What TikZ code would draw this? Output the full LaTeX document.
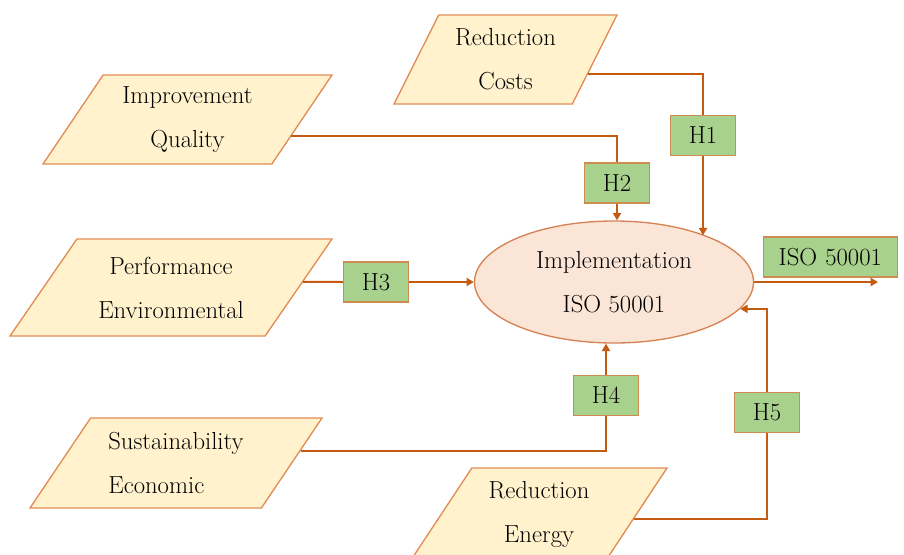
\documentclass[tikz,border=0pt]{standalone}
\usetikzlibrary{shapes.geometric,arrows.meta,calc}

\definecolor{linkbrown}{RGB}{197,90,17}
\definecolor{cardfill}{RGB}{255,242,204}
\definecolor{cardedge}{RGB}{226,140,84}
\definecolor{ovalfill}{RGB}{251,229,214}
\definecolor{ovaledge}{RGB}{214,130,84}
\definecolor{hfill}{RGB}{169,209,142}
\definecolor{hedge}{RGB}{205,140,80}

\newcommand{\pxu}{0.75pt}

\tikzset{
    card/.style 2 args={trapezium, trapezium stretches body, trapezium left angle=#1, trapezium right angle=#2, draw=cardedge, fill=cardfill, line width=1pt, inner sep=0pt, font=\fontsize{18.5}{33}\selectfont, align=center},
    hbox/.style={rectangle, draw=hedge, fill=hfill, line width=1pt, minimum width=65*\pxu, minimum height=40*\pxu, inner sep=0pt, font=\fontsize{18.5}{20}\selectfont},
    link/.style={draw=linkbrown, line width=1.5pt},
    linkarrow/.style={link, -{Triangle[length=5.5pt, width=6pt]}}
}

\begin{document}
\begin{tikzpicture}[x=\pxu, y=-\pxu]
                \useasboundingbox (0,0) rectangle (904,554);

                \node[card={54}{126}, minimum width=223*\pxu, minimum height=89*\pxu] (costs) at (505.5,59.5) {Reduction\\Costs};

                \node[card={47.6}{132.4}, minimum width=289*\pxu, minimum height=89*\pxu] (quality) at (187.5,119.5) {Improvement\\Quality};

                \node[card={42.6}{137.4}, minimum width=322*\pxu, minimum height=97*\pxu] (perf) at (171,287.5) {Performance\\Environmental};

                \node[card={45.4}{134.6}, minimum width=292*\pxu, minimum height=90*\pxu, align=left] (econ) at (176,463) {Sustainability\\Economic};

                \node[card={47.4}{132.6}, minimum width=256*\pxu, minimum height=92*\pxu] (energy) at (539,514) {Reduction\\Energy};

                \node[ellipse, draw=ovaledge, fill=ovalfill, line width=1pt, minimum width=279*\pxu, minimum height=122*\pxu, inner sep=0pt, font=\fontsize{18.5}{33}\selectfont, align=center] (impl) at (614,282) {Implementation\\ISO 50001};

                \node[hbox] (h1) at (703,135.5) {H1};

                \node[hbox] (h2) at (617,183) {H2};

                \node[hbox] (h3) at (376,282) {H3};

                \node[hbox] (h4) at (606,395.5) {H4};

                \node[hbox] (h5) at (767,412.5) {H5};

                \node[hbox, anchor=west, minimum width=134*\pxu, text width=104*\pxu, inner xsep=15*\pxu, align=left] (isobox) at (763,257) {ISO 50001};

                \coordinate (costs-out) at ($(costs.bottom right corner)!.335!(costs.top right corner)$);

                \coordinate (quality-out) at ($(quality.bottom right corner)!.315!(quality.top right corner)$);

                \coordinate (perf-out) at ($(perf.bottom right corner)!.557!(perf.top right corner)$);

                \coordinate (econ-out) at ($(econ.bottom right corner)!.633!(econ.top right corner)$);

                \coordinate (energy-out) at ($(energy.bottom right corner)!.446!(energy.top right corner)$);

                \coordinate (iso-end) at (878,282);

                \draw[link] (costs-out) -| (h1.north);

                \draw[linkarrow] (h1.south) -- (h1.south |- impl.27.4);

                \draw[link] (quality-out) -| (h2.north);

                \draw[linkarrow] (h2.south) -- (h2.south |- impl.north);

                \draw[link] (perf-out) -- (h3.west);

                \draw[linkarrow] (h3.east) -- (impl.west);

                \draw[link] (econ-out) -| (h4.south);

                \draw[linkarrow] (h4.north) -- (h4.north |- impl.south);

                \draw[link] (energy-out) -| (h5.south);

                \draw[linkarrow] (h5.north) |- (impl.-12.7);

                \draw[linkarrow] (impl.east) -- (iso-end);
\end{tikzpicture}
\end{document}
